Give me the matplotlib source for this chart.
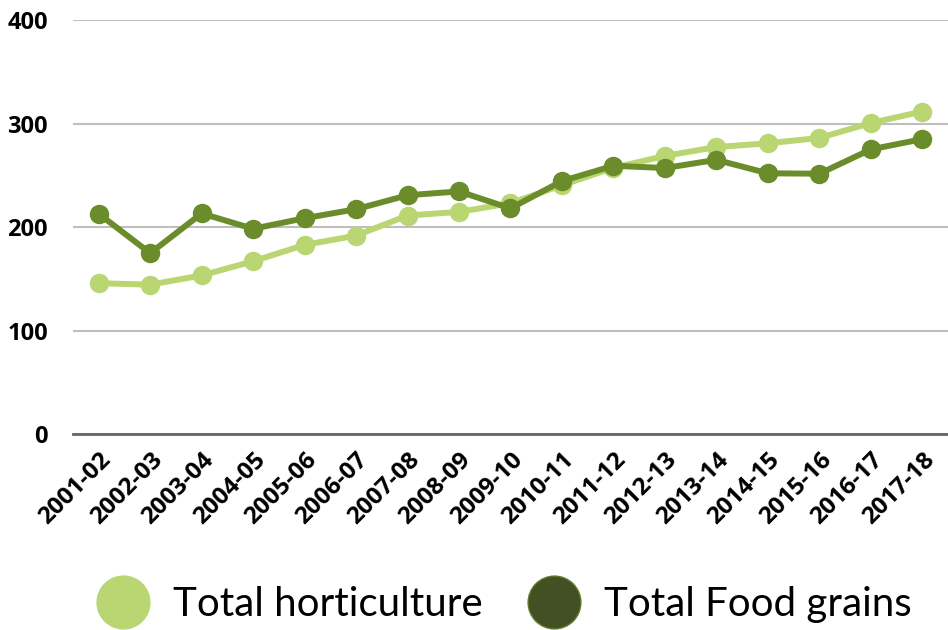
import matplotlib
matplotlib.use("Agg")
import matplotlib.pyplot as plt
import matplotlib.transforms as mtransforms
from matplotlib.lines import Line2D

years = ["2001-02", "2002-03", "2003-04", "2004-05", "2005-06", "2006-07",
         "2007-08", "2008-09", "2009-10", "2010-11", "2011-12", "2012-13",
         "2013-14", "2014-15", "2015-16", "2016-17", "2017-18"]
horticulture = [145.8, 144.4, 153.3, 167.0, 182.8, 191.8, 211.2, 214.7, 223.1,
                240.5, 257.3, 268.8, 277.4, 281.0, 286.2, 300.6, 311.7]
food_grains = [212.9, 174.8, 213.2, 198.4, 208.6, 217.3, 230.8, 234.5, 218.1,
               244.5, 259.3, 257.1, 265.0, 252.0, 251.6, 275.1, 285.0]

light = "#b9d672"
dark = "#6b8c2b"
dark_legend = "#435024"

fig = plt.figure(figsize=(9.48, 6.3), dpi=100)
ax = fig.add_axes([0.077, 0.311, 0.923, 0.657])

x = range(len(years))
ax.plot(x, horticulture, color=light, lw=4.3, marker="o", ms=13, zorder=3)
ax.plot(x, food_grains, color=dark, lw=4.3, marker="o", ms=13, zorder=4)

ax.set_xlim(-0.5, len(years) - 0.5)
ax.set_ylim(0, 400)
ax.set_yticks([0, 100, 200, 300, 400])
ax.set_xticks(list(x))
ax.set_xticklabels(years, rotation=45, ha="right", va="top",
                   rotation_mode="anchor", fontsize=17.5, fontweight="bold",
                   family="Open Sans")
# shift rotated labels a bit to the right, as in the original
shift = mtransforms.ScaledTranslation(15 / 100, 0, fig.dpi_scale_trans)
for lab in ax.get_xticklabels():
    lab.set_transform(lab.get_transform() + shift)
for lab in ax.get_yticklabels():
    lab.set_fontsize(17)
    lab.set_fontweight("bold")
    lab.set_family("Open Sans")

ax.grid(axis="y", color="#bfbfbf", lw=1.5, zorder=0)
ax.set_axisbelow(True)
for s in ["top", "right", "left"]:
    ax.spines[s].set_visible(False)
ax.spines["bottom"].set_color("#666666")
ax.spines["bottom"].set_linewidth(2)
ax.spines["bottom"].set_zorder(1)
ax.tick_params(axis="y", length=0, pad=18)
ax.tick_params(axis="x", length=0, pad=10)

handles = [
    Line2D([], [], ls="none", marker="o", ms=38, color=light, label="Total horticulture"),
    Line2D([], [], ls="none", marker="o", ms=38, color=dark_legend,
           markeredgecolor="#5f7a2c", markeredgewidth=1, label="Total Food grains"),
]
fig.legend(handles=handles, loc="center", bbox_to_anchor=(0.532, 0.04), ncol=2,
           frameon=False, prop={"family": "Lato", "size": 29},
           handletextpad=0.6, columnspacing=1.1, handlelength=1.3)

fig.savefig("out.png", dpi=100, facecolor="white")
